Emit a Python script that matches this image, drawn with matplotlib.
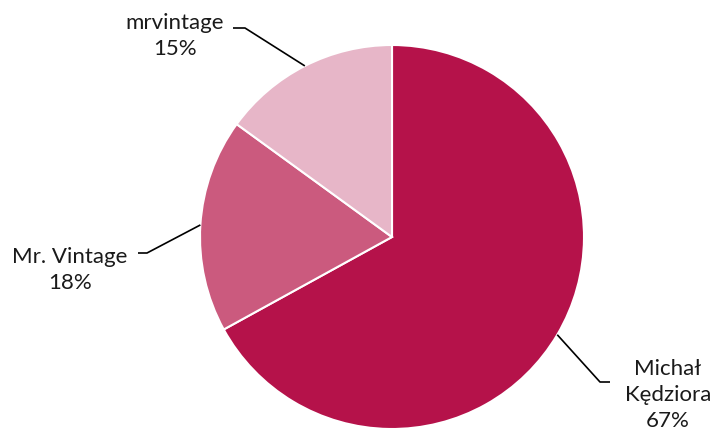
import numpy as np
import matplotlib.pyplot as plt

plt.rcParams['font.family'] = ['Lato', 'DejaVu Sans']

labels = ['Michał\nKędziora', 'Mr. Vintage', 'mrvintage']
shares = [67, 18, 15]
colors = ['#B5124A', '#CB5A7E', '#E7B6C8']

W, H = 711, 433
cx, cy, r = 392, H - 237, 192

# label block centre, elbow point, line end (pixels, y from top)
label_pos = [(668, 395), (70, 270), (175, 36)]
elbows = [(600, 382), (147, 253), (245, 28)]
ends = [(610, 382), (138, 253), (233, 28)]

fig = plt.figure(figsize=(W / 100, H / 100), dpi=100)
ax = fig.add_axes([0, 0, 1, 1])

wedges, _ = ax.pie(shares, colors=colors, startangle=90, counterclock=False,
                   center=(cx, cy), radius=r,
                   wedgeprops=dict(edgecolor='white', linewidth=1.5))

for w, lab, val, lp, el, en in zip(wedges, labels, shares, label_pos, elbows, ends):
    mid = np.deg2rad((w.theta1 + w.theta2) / 2)
    x0 = cx + r * np.cos(mid)
    y0 = cy + r * np.sin(mid)
    ax.plot([x0, el[0], en[0]], [y0, H - el[1], H - en[1]],
            color='black', lw=1.2, solid_capstyle='butt')
    ax.text(lp[0], H - lp[1], f'{lab}\n{val}%', ha='center', va='center',
            fontsize=16, linespacing=1.38, color='#1a1a1a')

ax.set_xlim(0, W)
ax.set_ylim(0, H)
ax.axis('off')

plt.savefig('out.png', dpi=100)
